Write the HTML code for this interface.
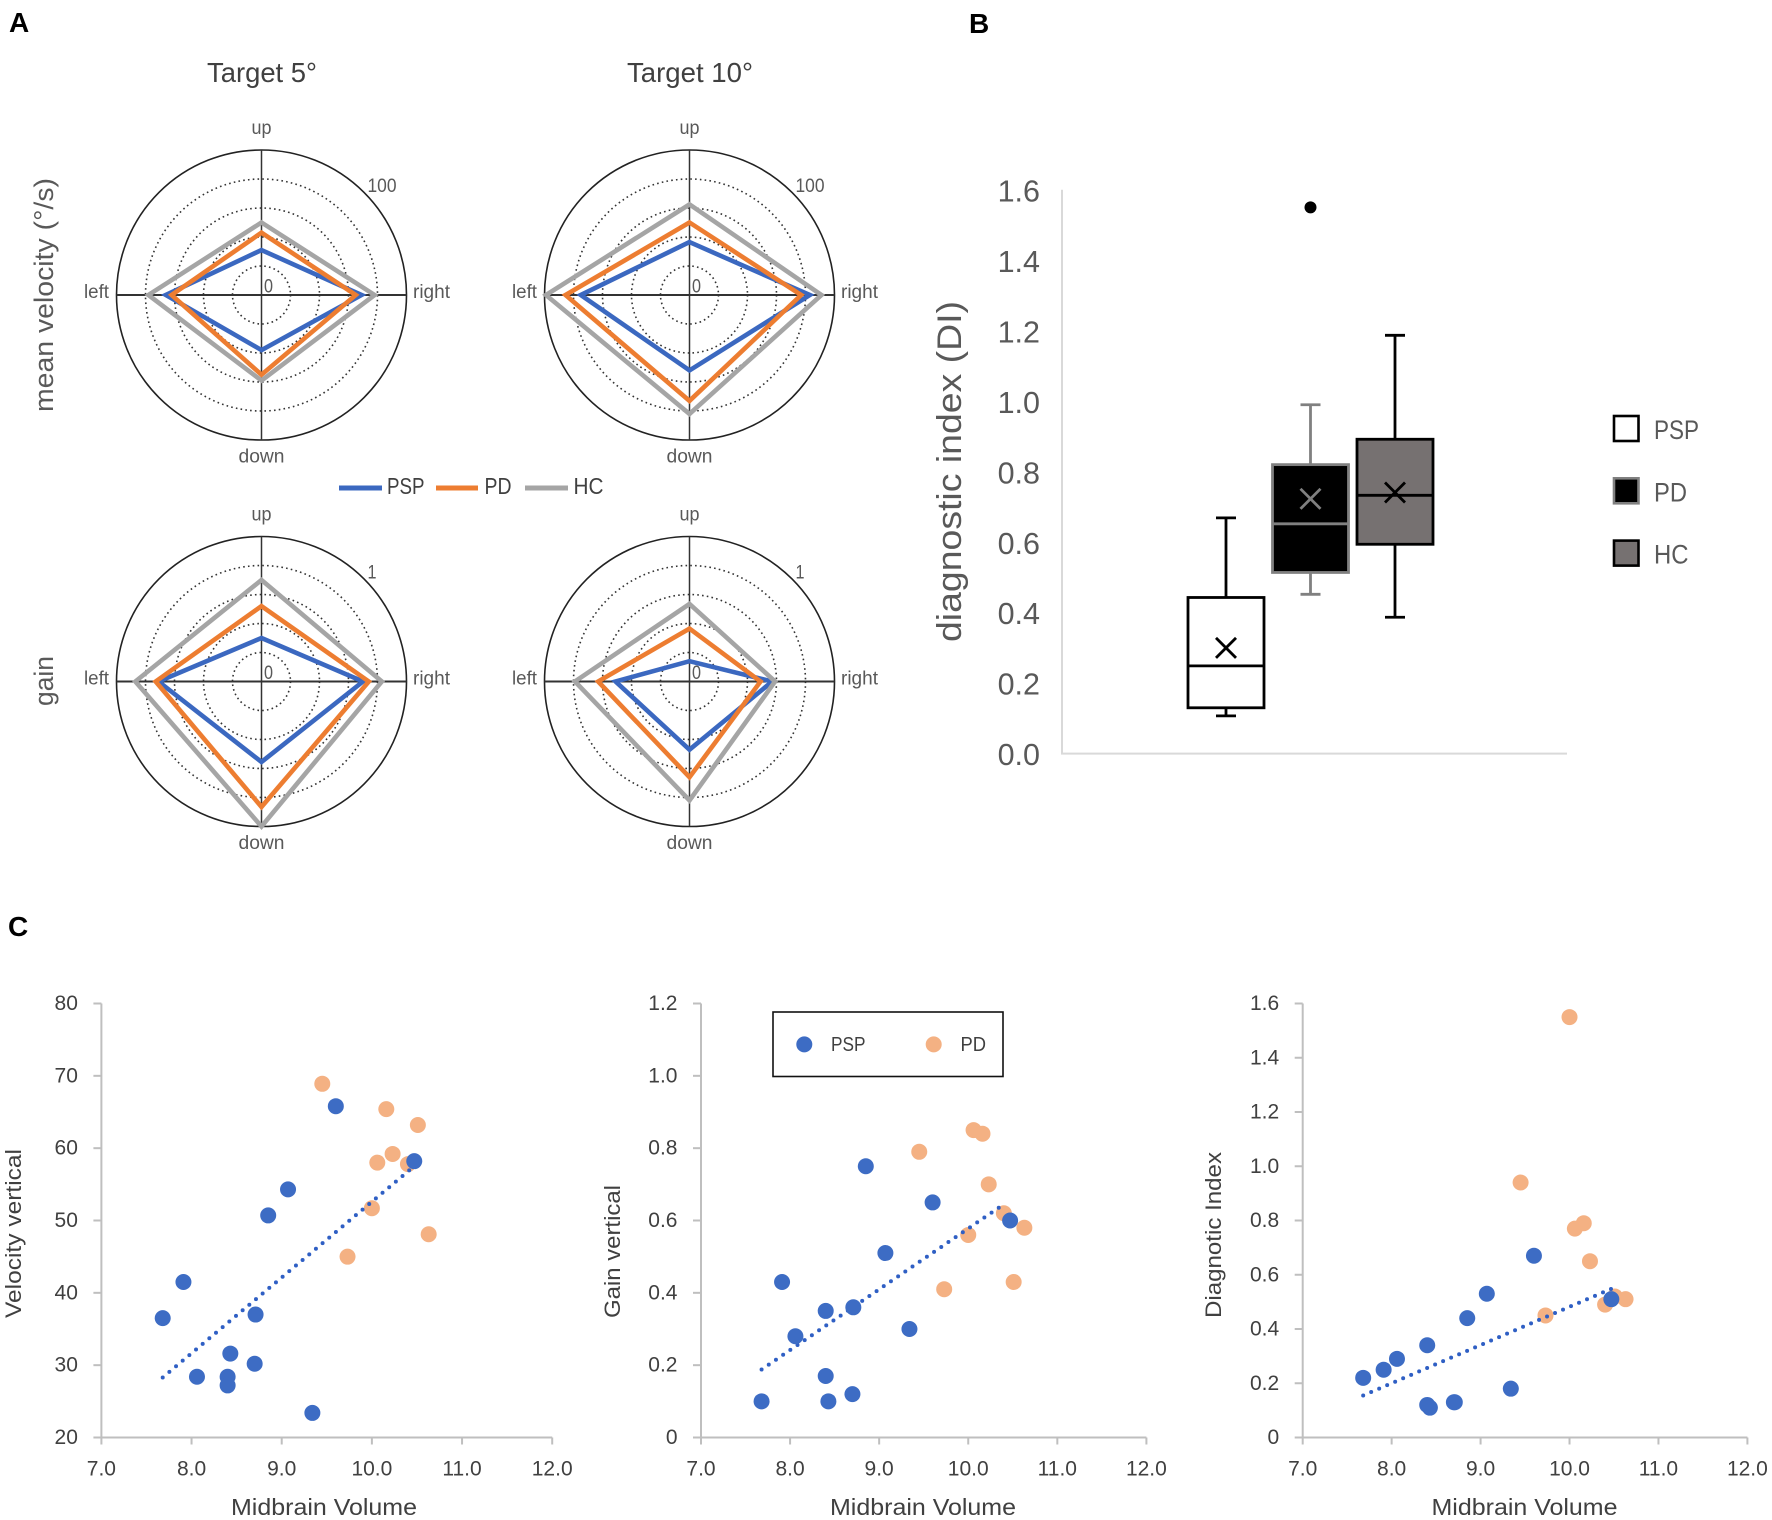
<!DOCTYPE html>
<html lang="en">
<head>
<meta charset="utf-8">
<title>Eye movement radar, box and scatter charts</title>
<style>
html,body{margin:0;padding:0;background:#fff;}
svg{display:block;font-family:"Liberation Sans",sans-serif;}
</style>
</head>
<body>
<svg id="figure" xmlns="http://www.w3.org/2000/svg" width="1772" height="1520" viewBox="0 0 1772 1520">
  <rect x="0" y="0" width="1772" height="1520" fill="#ffffff"/>
  <text x="9" y="32" font-size="28" font-weight="700" fill="#000">A</text>
  <text x="969" y="33" font-size="28" font-weight="700" fill="#000">B</text>
  <text x="8" y="936" font-size="28" font-weight="700" fill="#000">C</text>
  <g id="panelA"></g>
  <g id="panelB"></g>
  <g id="panelC"></g>
</svg>
<script>
/* ---------- Panel A data ---------- */
const radarDirections = ['up', 'right', 'down', 'left'];
const velocity5PSP = [31, 69, 38, 66];
const velocity5PD = [43, 65, 55, 62];
const velocity5HC = [50, 78, 59, 78];
const velocity10PSP = [36.5, 83, 52, 75];
const velocity10PD = [50, 77, 73, 85.5];
const velocity10HC = [62.5, 91, 82, 99];
const gain5PSP = [0.30, 0.70, 0.555, 0.71];
const gain5PD = [0.52, 0.74, 0.865, 0.73];
const gain5HC = [0.70, 0.83, 1.0, 0.87];
const gain10PSP = [0.14, 0.57, 0.47, 0.51];
const gain10PD = [0.365, 0.49, 0.66, 0.63];
const gain10HC = [0.535, 0.59, 0.82, 0.79];
const radarGroups = ['PSP', 'PD', 'HC'];

/* ---------- Panel B data ---------- */
const boxGroups = ['PSP', 'PD', 'HC'];
const boxMin = [0.107, 0.452, 0.387];
const boxQ1 = [0.13, 0.514, 0.594];
const boxMedian = [0.249, 0.652, 0.733];
const boxQ3 = [0.443, 0.82, 0.892];
const boxMax = [0.669, 0.99, 1.187];
const boxMean = [0.30, 0.723, 0.741];
const boxOutliers = [[], [1.55], []];
const boxTicks = ['0.0', '0.2', '0.4', '0.6', '0.8', '1.0', '1.2', '1.4', '1.6'];

/* ---------- Panel C data ---------- */
const midbrainPSP = [7.68, 7.91, 8.06, 8.40, 8.40, 8.43, 8.70, 8.71, 8.85, 9.07, 9.34, 9.60, 10.47];
const midbrainPD = [9.45, 9.73, 10.0, 10.06, 10.16, 10.23, 10.40, 10.51, 10.63];
const velocityPSP = [36.5, 41.5, 28.4, 28.4, 27.2, 31.6, 30.2, 37.0, 50.7, 54.3, 23.4, 65.8, 58.2];
const velocityPD = [68.9, 45.0, 51.7, 58.0, 65.4, 59.2, 57.8, 63.2, 48.1];
const gainPSP = [0.10, 0.43, 0.28, 0.35, 0.17, 0.10, 0.12, 0.36, 0.75, 0.51, 0.30, 0.65, 0.60];
const gainPD = [0.79, 0.41, 0.56, 0.85, 0.84, 0.70, 0.62, 0.43, 0.58];
const diagnosticPSP = [0.22, 0.25, 0.29, 0.34, 0.12, 0.11, 0.13, 0.13, 0.44, 0.53, 0.18, 0.67, 0.51];
const diagnosticPD = [0.94, 0.45, 1.55, 0.77, 0.79, 0.65, 0.49, 0.52, 0.51];
const velocityTrendX = [7.68, 10.44];
const velocityTrendY = [28.3, 57.2];
const gainTrendX = [7.68, 10.40];
const gainTrendY = [0.188, 0.645];
const diagnosticTrendX = [7.68, 10.47];
const diagnosticTrendY = [0.155, 0.548];
const midbrainTicks = ['7.0', '8.0', '9.0', '10.0', '11.0', '12.0'];
const velocityTicks = ['20', '30', '40', '50', '60', '70', '80'];
const gainTicks = ['0', '0.2', '0.4', '0.6', '0.8', '1.0', '1.2'];
const diagnosticTicks = ['0', '0.2', '0.4', '0.6', '0.8', '1.0', '1.2', '1.4', '1.6'];

/* ---------- helpers ---------- */
const SVG_NS = 'http://www.w3.org/2000/svg';
function add(parent, tag, attrs) {
  const el = document.createElementNS(SVG_NS, tag);
  for (const k in attrs) el.setAttribute(k, attrs[k]);
  parent.appendChild(el);
  return el;
}
function addText(parent, str, attrs) {
  const el = add(parent, 'text', attrs);
  el.textContent = str;
  return el;
}
function fitted(width) {
  return { textLength: width, lengthAdjust: 'spacingAndGlyphs' };
}

/* ---------- Panel A ---------- */
const panelA = document.getElementById('panelA');
const RADAR_R = 145;
const radarColors = ['#3b68c0', '#ed7d31', '#a5a5a5'];
const radarLabelStyle = { 'font-size': 19, fill: '#595959' };

function drawRadar(name, cx, cy, maxValue, maxLabel, maxLabelWidth, seriesList) {
  const g = add(panelA, 'g', {});
  
  
  for (let i = 1; i <= 4; i++) {
    const ring = add(g, 'circle', { cx: cx, cy: cy, r: RADAR_R * i / 5, fill: 'none', stroke: '#333', 'stroke-width': 1.6, 'stroke-dasharray': '1.6 3.2' });
    
    
  }
  const outer = add(g, 'circle', { cx: cx, cy: cy, r: RADAR_R, fill: 'none', stroke: '#222', 'stroke-width': 1.6 });
  
  
  const vAxis = add(g, 'line', { x1: cx, y1: cy - RADAR_R, x2: cx, y2: cy + RADAR_R, stroke: '#333', 'stroke-width': 1.5 });
  
  
  const hAxis = add(g, 'line', { x1: cx - RADAR_R, y1: cy, x2: cx + RADAR_R, y2: cy, stroke: '#333', 'stroke-width': 2 });
  
  

  seriesList.forEach(function (values, s) {
    const pts = values.map(function (v, i) {
      const r = v / maxValue * RADAR_R;
      const a = i * Math.PI / 2;
      return (cx + r * Math.sin(a)).toFixed(2) + ',' + (cy - r * Math.cos(a)).toFixed(2);
    }).join(' ');
    const poly = add(g, 'polygon', { points: pts, fill: 'none', stroke: radarColors[s], 'stroke-width': 4.6, 'stroke-linejoin': 'miter' });
    
    
  });

  const upLabel = addText(g, radarDirections[0], Object.assign({ x: cx, y: cy - 161, 'text-anchor': 'middle' }, radarLabelStyle, fitted(20)));
  
  
  const rightLabel = addText(g, radarDirections[1], Object.assign({ x: cx + 151.5, y: cy + 3, 'text-anchor': 'start' }, radarLabelStyle, fitted(37)));
  
  
  const downLabel = addText(g, radarDirections[2], Object.assign({ x: cx, y: cy + 167.5, 'text-anchor': 'middle' }, radarLabelStyle, fitted(46)));
  
  
  const leftLabel = addText(g, radarDirections[3], Object.assign({ x: cx - 177.5, y: cy + 3, 'text-anchor': 'start' }, radarLabelStyle, fitted(25)));
  
  
  const zero = addText(g, '0', Object.assign({ x: cx + 2.5, y: cy - 2.5, 'text-anchor': 'start' }, radarLabelStyle, fitted(9)));
  
  
  const maxText = addText(g, maxLabel, Object.assign({ x: cx + 106, y: cy - 103, 'text-anchor': 'start' }, radarLabelStyle, fitted(maxLabelWidth)));
  
  
}
drawRadar('radar-velocity-5', 261.5, 295, 100, '100', 29, [velocity5PSP, velocity5PD, velocity5HC]);
drawRadar('radar-velocity-10', 689.5, 295, 100, '100', 29, [velocity10PSP, velocity10PD, velocity10HC]);
drawRadar('radar-gain-5', 261.5, 681.5, 1, '1', 9, [gain5PSP, gain5PD, gain5HC]);
drawRadar('radar-gain-10', 689.5, 681.5, 1, '1', 9, [gain10PSP, gain10PD, gain10HC]);

const title5 = addText(panelA, 'Target 5°', Object.assign({ x: 262, y: 82, 'text-anchor': 'middle', 'font-size': 28, fill: '#404040' }, fitted(110)));


const title10 = addText(panelA, 'Target 10°', Object.assign({ x: 690, y: 82, 'text-anchor': 'middle', 'font-size': 28, fill: '#404040' }, fitted(126)));



const rowVel = addText(panelA, 'mean velocity (°/s)', Object.assign({ x: 0, y: 0, transform: 'translate(53 295) rotate(-90)', 'text-anchor': 'middle', 'font-size': 27, fill: '#595959' }, fitted(234)));


const rowGain = addText(panelA, 'gain', Object.assign({ x: 0, y: 0, transform: 'translate(53 681) rotate(-90)', 'text-anchor': 'middle', 'font-size': 27, fill: '#595959' }, fitted(50)));



const radarLegendLine = [[339, 382], [436, 478], [525, 568]];
const radarLegendText = [[387, 37.5], [484.5, 27], [573.5, 30]];
radarGroups.forEach(function (grp, i) {
  const ln = add(panelA, 'line', { x1: radarLegendLine[i][0], y1: 488, x2: radarLegendLine[i][1], y2: 488, stroke: radarColors[i], 'stroke-width': 5 });
  
  
  const t = addText(panelA, grp, Object.assign({ x: radarLegendText[i][0], y: 494, 'font-size': 23, fill: '#404040' }, fitted(radarLegendText[i][1])));
  
  
});

/* ---------- Panel B ---------- */
const panelB = document.getElementById('panelB');
const BOX_Y0 = 753.6;
const BOX_PX = 352.4;
function boxY(v) { return BOX_Y0 - v * BOX_PX; }
function boxCenter(i) { return 1226 + i * 84.5; }
const BOX_W = 76;
const boxFill = ['#ffffff', '#000000', '#767171'];
const boxStroke = ['#000000', '#808080', '#000000'];

const boxYAxis = add(panelB, 'line', { x1: 1062, y1: boxY(1.6), x2: 1062, y2: BOX_Y0, stroke: '#d9d9d9', 'stroke-width': 2 });


const boxXAxis = add(panelB, 'line', { x1: 1061, y1: BOX_Y0, x2: 1567, y2: BOX_Y0, stroke: '#d9d9d9', 'stroke-width': 2 });



boxTicks.forEach(function (label) {
  const t = addText(panelB, label, { x: 1040, y: boxY(parseFloat(label)) + 11.6, 'text-anchor': 'end', 'font-size': 30.5, fill: '#595959' });
  
  
});
const boxTitle = addText(panelB, 'diagnostic index (DI)', Object.assign({ x: 0, y: 0, transform: 'translate(961 471.5) rotate(-90)', 'text-anchor': 'middle', 'font-size': 34, fill: '#595959' }, fitted(341)));



boxGroups.forEach(function (grp, i) {
  const cx = boxCenter(i);
  const g = add(panelB, 'g', {});
  
  
  const sw = { stroke: boxStroke[i], 'stroke-width': 2.8 };
  const whisker = add(g, 'line', Object.assign({ x1: cx, y1: boxY(boxMin[i]), x2: cx, y2: boxY(boxMax[i]) }, sw));
  
  
  [boxMin[i], boxMax[i]].forEach(function (v) {
    const cap = add(g, 'line', Object.assign({ x1: cx - 10, y1: boxY(v), x2: cx + 10, y2: boxY(v) }, sw));
    
    
  });
  const rect = add(g, 'rect', Object.assign({ x: cx - BOX_W / 2, y: boxY(boxQ3[i]), width: BOX_W, height: boxY(boxQ1[i]) - boxY(boxQ3[i]), fill: boxFill[i] }, sw));
  
  
  const med = add(g, 'line', Object.assign({ x1: cx - BOX_W / 2, y1: boxY(boxMedian[i]), x2: cx + BOX_W / 2, y2: boxY(boxMedian[i]) }, sw));
  
  
  const my = boxY(boxMean[i]);
  const m1 = add(g, 'line', Object.assign({ x1: cx - 10, y1: my - 10, x2: cx + 10, y2: my + 10 }, sw));
  
  
  const m2 = add(g, 'line', Object.assign({ x1: cx - 10, y1: my + 10, x2: cx + 10, y2: my - 10 }, sw));
  
  
  boxOutliers[i].forEach(function (v) {
    const o = add(g, 'circle', { cx: cx, cy: boxY(v), r: 6, fill: '#000' });
    
    
  });
});

const boxLegendWidths = [45, 33, 34.5];
boxGroups.forEach(function (grp, i) {
  const top = 416 + i * 62.3;
  const sq = add(panelB, 'rect', { x: 1614, y: top, width: 24.5, height: 25, fill: boxFill[i], stroke: i === 1 ? '#808080' : '#000', 'stroke-width': 2.6 });
  
  
  const t = addText(panelB, grp, Object.assign({ x: 1654, y: top + 23, 'font-size': 27, fill: '#595959' }, fitted(boxLegendWidths[i])));
  
  
});

/* ---------- Panel C ---------- */
const panelC = document.getElementById('panelC');
const BLUE = '#3d6cc4';
const ORANGE = '#f4b183';
const AXIS_C = '#bfbfbf';
const TXT_C = '#404040';
const MARKER_R = 8;

function drawScatter(cfg) {
  const g = add(panelC, 'g', {});
  
  
  const x = function (v) { return cfg.x0 + (v - 7) / 5 * (cfg.x1 - cfg.x0); };
  const y = function (v) { return cfg.yb - (v - cfg.ymin) / (cfg.ymax - cfg.ymin) * (cfg.yb - cfg.yt); };

  const ya = add(g, 'line', { x1: cfg.x0, y1: cfg.yt, x2: cfg.x0, y2: cfg.yb, stroke: AXIS_C, 'stroke-width': 2 });
  
  
  const xa = add(g, 'line', { x1: cfg.x0, y1: cfg.yb, x2: cfg.x1, y2: cfg.yb, stroke: AXIS_C, 'stroke-width': 2 });
  
  

  cfg.yTicks.forEach(function (label) {
    const py = y(parseFloat(label));
    const tk = add(g, 'line', { x1: cfg.x0 - 8, y1: py, x2: cfg.x0, y2: py, stroke: AXIS_C, 'stroke-width': 2 });
    
    
    const t = addText(g, label, { x: cfg.x0 - 23.5, y: py + 6.5, 'text-anchor': 'end', 'font-size': 21, fill: TXT_C });
    
    
  });
  midbrainTicks.forEach(function (label) {
    const px = x(parseFloat(label));
    const tk = add(g, 'line', { x1: px, y1: cfg.yb, x2: px, y2: cfg.yb + 7, stroke: AXIS_C, 'stroke-width': 2 });
    
    
    const t = addText(g, label, { x: px, y: cfg.yb + 38, 'text-anchor': 'middle', 'font-size': 21, fill: TXT_C });
    
    
  });

  const xTitle = addText(g, 'Midbrain Volume', Object.assign({ x: cfg.xTitleX, y: 1515, 'text-anchor': 'middle', 'font-size': 23, fill: TXT_C }, fitted(186)));
  
  
  const yTitle = addText(g, cfg.yTitle, Object.assign({ x: 0, y: 0, transform: 'translate(' + cfg.yTitleX + ' ' + cfg.yTitleY + ') rotate(-90)', 'text-anchor': 'middle', 'font-size': 22, fill: TXT_C }, fitted(cfg.yTitleLen)));
  
  

  cfg.pdY.forEach(function (v, i) {
    const c = add(g, 'circle', { cx: x(midbrainPD[i]), cy: y(v), r: MARKER_R, fill: ORANGE });
    
    
  });
  const trend = add(g, 'line', { x1: x(cfg.trendX[0]), y1: y(cfg.trendY[0]), x2: x(cfg.trendX[1]), y2: y(cfg.trendY[1]), stroke: '#2f5fc4', 'stroke-width': 4, 'stroke-linecap': 'round', 'stroke-dasharray': '0 8.7' });
  
  
  cfg.pspY.forEach(function (v, i) {
    const c = add(g, 'circle', { cx: x(midbrainPSP[i]), cy: y(v), r: MARKER_R, fill: BLUE });
    
    
  });
}

drawScatter({
  name: 'scatter-velocity', x0: 101.4, x1: 552.2, yb: 1437.5, yt: 1003.5, ymin: 20, ymax: 80,
  yTicks: velocityTicks, pspY: velocityPSP, pdY: velocityPD, trendX: velocityTrendX, trendY: velocityTrendY,
  yTitle: 'Velocity vertical', yTitleX: 21, yTitleY: 1233.5, yTitleLen: 169, xTitleX: 324
});
drawScatter({
  name: 'scatter-gain', x0: 701, x1: 1146.4, yb: 1437.5, yt: 1003.5, ymin: 0, ymax: 1.2,
  yTicks: gainTicks, pspY: gainPSP, pdY: gainPD, trendX: gainTrendX, trendY: gainTrendY,
  yTitle: 'Gain vertical', yTitleX: 620, yTitleY: 1251.5, yTitleLen: 133, xTitleX: 923
});
drawScatter({
  name: 'scatter-diagnostic-index', x0: 1302.7, x1: 1747.4, yb: 1437.5, yt: 1003.5, ymin: 0, ymax: 1.6,
  yTicks: diagnosticTicks, pspY: diagnosticPSP, pdY: diagnosticPD, trendX: diagnosticTrendX, trendY: diagnosticTrendY,
  yTitle: 'Diagnotic Index', yTitleX: 1221, yTitleY: 1235, yTitleLen: 166, xTitleX: 1524.5
});

const legendBox = add(panelC, 'rect', { x: 773, y: 1012, width: 230, height: 64.5, fill: '#fff', stroke: '#111', 'stroke-width': 1.6 });


const legPspDot = add(panelC, 'circle', { cx: 804.3, cy: 1044.4, r: MARKER_R, fill: BLUE });


const legPspTxt = addText(panelC, 'PSP', Object.assign({ x: 831, y: 1051, 'font-size': 20.5, fill: TXT_C }, fitted(34.5)));


const legPdDot = add(panelC, 'circle', { cx: 933.7, cy: 1044.4, r: MARKER_R, fill: ORANGE });


const legPdTxt = addText(panelC, 'PD', Object.assign({ x: 960.5, y: 1051, 'font-size': 20.5, fill: TXT_C }, fitted(25.5)));


</script>
</body>
</html>
